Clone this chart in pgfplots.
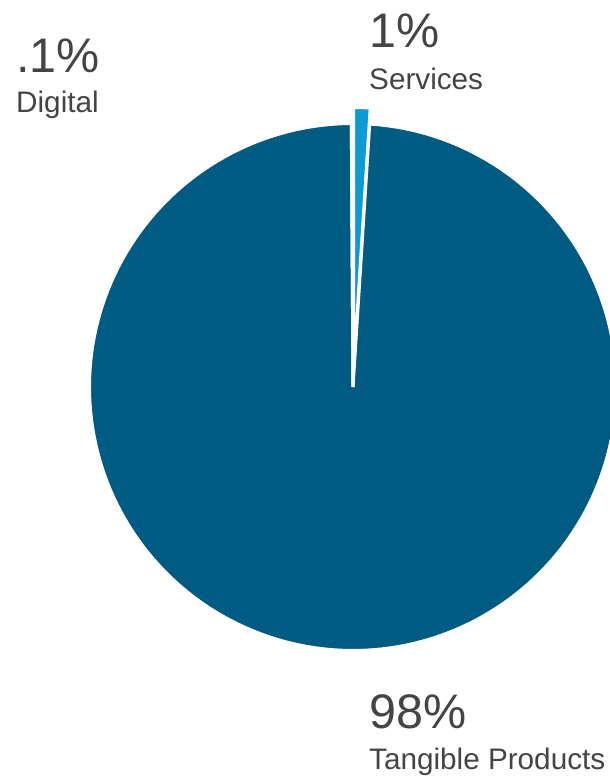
\documentclass[border=0pt]{standalone}
\usepackage{fontspec}
\setmainfont{Liberation Sans}
\usepackage{pgfplots}
\usepackage{pgfplotstable}
\pgfplotsset{compat=1.18}
\definecolor{tang}{RGB}{0,91,130}
\definecolor{serv}{RGB}{12,155,210}
\definecolor{digi}{RGB}{110,185,220}
\definecolor{txt}{RGB}{68,68,68}
\pgfplotstableread{
label value
Tangible 98
Services 1
Digital 0.1
}\piedata
\begin{document}
\begin{tikzpicture}
\pgfplotstablegetelem{0}{value}\of\piedata \let\vT\pgfplotsretval
\pgfplotstablegetelem{1}{value}\of\piedata \let\vS\pgfplotsretval
\pgfplotstablegetelem{2}{value}\of\piedata \let\vD\pgfplotsretval
\pgfmathsetmacro{\tot}{\vT+\vS+\vD}
\pgfmathsetmacro{\aS}{90-360*\vS/\tot}
\pgfmathsetmacro{\bD}{90+360*\vD/\tot}
\pgfmathsetmacro{\bT}{450-360*\vS/\tot}
\pgfmathsetmacro{\mS}{90-180*\vS/\tot}
\pgfmathsetmacro{\cxS}{353+16*cos(\mS)}
\pgfmathsetmacro{\cyS}{393+16*sin(\mS)}
\begin{axis}[scale only axis, width=610pt, height=780pt,
  xmin=0, xmax=610, ymin=0, ymax=780, hide axis, clip=true]
\addplot[draw=white, line width=3pt, fill=tang, domain=\bD:\bT, samples=200]
  ({353+263.5*cos(x)}, {393+263.5*sin(x)}) -- (axis cs:353,393) -- cycle;
\addplot[draw=white, line width=3pt, fill=digi, domain=90:\bD, samples=5]
  ({353+263.5*cos(x)}, {393+263.5*sin(x)}) -- (axis cs:353,393) -- cycle;
\addplot[draw=white, line width=3pt, fill=serv, domain=\aS:90, samples=10]
  ({\cxS+263.5*cos(x)}, {\cyS+263.5*sin(x)}) -- (axis cs:\cxS,\cyS) -- cycle;
\node[anchor=base west, inner sep=0, text=txt, font=\fontsize{48.5}{50}\selectfont] at (axis cs:16,707) {.1\%};
\node[anchor=base west, inner sep=0, text=txt, font=\fontsize{29.7}{32}\selectfont] at (axis cs:16,667) {Digital};
\node[anchor=base west, inner sep=0, text=txt, font=\fontsize{48.5}{50}\selectfont] at (axis cs:369,732) {1\%};
\node[anchor=base west, inner sep=0, text=txt, font=\fontsize{29.7}{32}\selectfont] at (axis cs:369,690) {Services};
\node[anchor=base west, inner sep=0, text=txt, font=\fontsize{48.5}{50}\selectfont] at (axis cs:369,51) {98\%};
\node[anchor=base west, inner sep=0, text=txt, font=\fontsize{29.7}{32}\selectfont] at (axis cs:369,10) {Tangible Products};
\end{axis}
\pgfresetboundingbox
\path (current axis.south west) rectangle (current axis.north east);
\end{tikzpicture}
\end{document}
